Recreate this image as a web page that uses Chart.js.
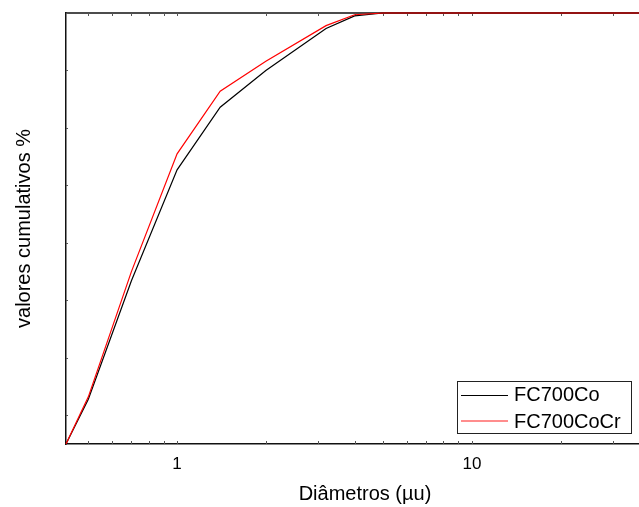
<!DOCTYPE html>
<html>
<head>
<meta charset="utf-8">
<script src="https://cdn.jsdelivr.net/npm/chart.js@4"></script>
<style>
  html, body { margin: 0; padding: 0; background: #fff; overflow: hidden; }
  #wrap { width: 680px; height: 507px; }
</style>
</head>
<body>
<div id="wrap"><canvas id="c" width="680" height="507"></canvas></div>
<script>
// Particle size distribution (cumulative), log diameter axis
const diametros = [0.42, 0.5, 0.7, 1, 1.4, 2, 3.2, 4, 5, 7, 10, 20, 40];
const fc700Co   = [25, 32.8, 53.4, 72.7, 83.6, 90.0, 97.3, 99.5, 100, 100, 100, 100, 100];
const fc700CoCr = [25, 33.2, 55.0, 75.5, 86.4, 91.6, 97.8, 99.7, 100, 100, 100, 100, 100];

const xTickValues = [0.5, 0.6, 0.7, 0.8, 0.9, 1, 2, 3, 4, 5, 6, 7, 8, 9, 10, 20, 30, 40];
const xTickLabels = { 1: '1', 10: '10' };
const yTickValues = [30, 40, 50, 60, 70, 80, 90, 100];

const FONT = '"Liberation Sans", Arial, sans-serif';
const AXIS = '#111';

// inward tick marks on bottom/top/left edges, top frame line, and legend box
const framePlugin = {
  id: 'frame',
  beforeDatasetsDraw(chart) {
    const { ctx, chartArea: a, scales } = chart;
    ctx.save();
    ctx.strokeStyle = AXIS;
    ctx.lineWidth = 1.5;
    ctx.beginPath();
    ctx.moveTo(a.left, a.top);
    ctx.lineTo(a.right + 2, a.top);
    ctx.stroke();
    ctx.strokeStyle = '#555';
    ctx.lineWidth = 1;
    ctx.beginPath();
    xTickValues.forEach(v => {
      const x = Math.round(scales.x.getPixelForValue(v)) + 0.5;
      const len = 3;
      ctx.moveTo(x, a.bottom);
      ctx.lineTo(x, a.bottom - len);
      ctx.moveTo(x, a.top);
      ctx.lineTo(x, a.top + len);
    });
    yTickValues.forEach(v => {
      const y = Math.round(scales.y.getPixelForValue(v)) + 0.5;
      ctx.moveTo(a.left, y);
      ctx.lineTo(a.left + 2, y);
    });
    ctx.stroke();
    ctx.restore();
  },
  afterDatasetsDraw(chart) {
    const { ctx } = chart;
    const box = { x: 457.5, y: 381.5, w: 174, h: 52 };
    ctx.save();
    ctx.fillStyle = '#fff';
    ctx.fillRect(box.x, box.y, box.w, box.h);
    ctx.strokeStyle = '#222';
    ctx.lineWidth = 1;
    ctx.strokeRect(box.x, box.y, box.w, box.h);
    ctx.font = '20px ' + FONT;
    ctx.textBaseline = 'middle';
    ctx.textAlign = 'left';
    chart.data.datasets.forEach((ds, i) => {
      const y = box.y + 13 + i * 26.5;
      ctx.strokeStyle = ds.borderColor;
      ctx.lineWidth = i === 0 ? 1 : 1.6;
      ctx.globalAlpha = i === 0 ? 1 : 0.6;
      ctx.beginPath();
      ctx.moveTo(461, i === 0 ? Math.round(y) + 0.5 : Math.round(y));
      ctx.lineTo(508, i === 0 ? Math.round(y) + 0.5 : Math.round(y));
      ctx.stroke();
      ctx.globalAlpha = 1;
      ctx.fillStyle = '#000';
      ctx.fillText(ds.label, 514, y + 1);
    });
    ctx.restore();
  }
};

new Chart(document.getElementById('c'), {
  type: 'line',
  data: {
    labels: diametros,
    datasets: [
      {
        label: 'FC700Co',
        data: diametros.map((d, i) => ({ x: d, y: fc700Co[i] })),
        borderColor: '#000000',
        borderWidth: 1.2,
        pointRadius: 0,
        tension: 0,
        clip: 2,
        order: 1
      },
      {
        label: 'FC700CoCr',
        data: diametros.map((d, i) => ({ x: d, y: fc700CoCr[i] })),
        borderColor: '#ff0000',
        borderWidth: 1.2,
        pointRadius: 0,
        tension: 0,
        clip: 2,
        order: 0
      }
    ]
  },
  options: {
    responsive: false,
    animation: false,
    devicePixelRatio: 1,
    layout: { padding: { top: 13, right: 16, left: 0, bottom: 0 } },
    plugins: { legend: { display: false }, tooltip: { enabled: false } },
    scales: {
      x: {
        type: 'logarithmic',
        min: 0.42,
        max: 44.8,
        afterBuildTicks(scale) {
          scale.ticks = xTickValues.map(v => ({ value: v, major: !!xTickLabels[v] }));
        },
        afterFit(scale) { scale.height = 63; },
        ticks: {
          autoSkip: false,
          maxRotation: 0,
          padding: 10,
          color: '#000',
          font: { family: FONT, size: 17 },
          callback: v => xTickLabels[v] || ''
        },
        grid: { display: true, drawOnChartArea: false, drawTicks: false },
        border: { display: true, color: AXIS, width: 1.5 },
        title: {
          display: true,
          text: 'Diâmetros (µu)',
          color: '#000',
          font: { family: FONT, size: 20 },
          padding: { top: 0, bottom: 1 }
        }
      },
      y: {
        type: 'linear',
        min: 25,
        max: 100,
        afterFit(scale) { scale.width = 66; },
        ticks: { display: false, stepSize: 10 },
        grid: { display: true, drawOnChartArea: false, drawTicks: false },
        border: { display: true, color: AXIS, width: 1.5 },
        title: {
          display: true,
          text: 'valores cumulativos %',
          color: '#000',
          font: { family: FONT, size: 20 },
          padding: { top: 12, bottom: 0 }
        }
      }
    }
  },
  plugins: [framePlugin]
});
</script>
</body>
</html>
